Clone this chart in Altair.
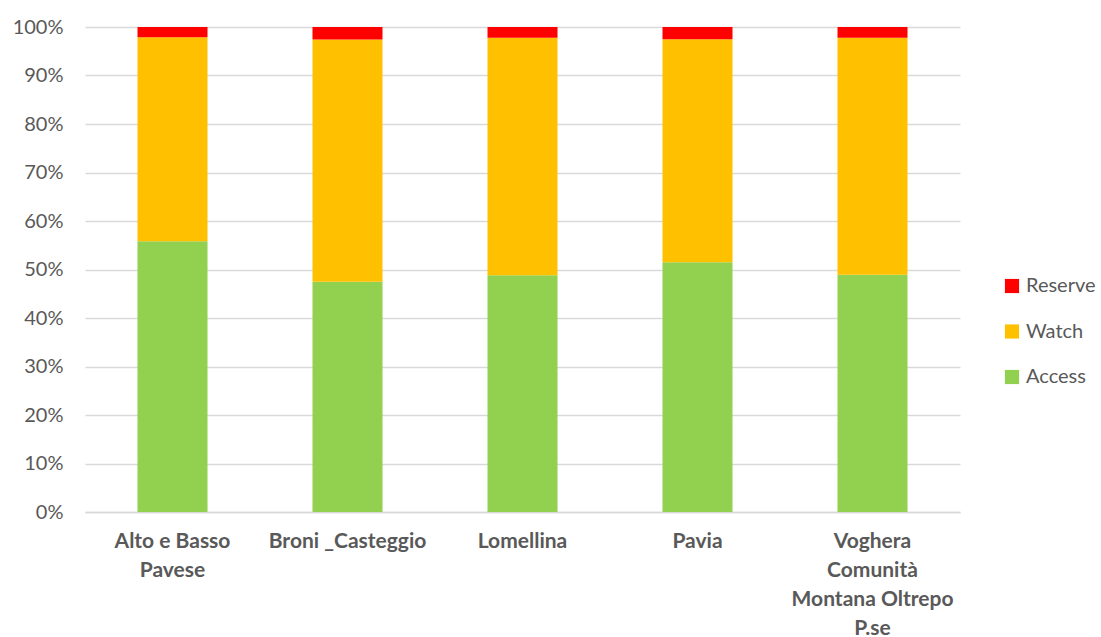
import altair as alt
import pandas as pd

categories = ["Alto e Basso Pavese", "Broni _Casteggio", "Lomellina", "Pavia",
              "Voghera Comunità Montana Oltrepo P.se"]
label_lines = [["Alto e Basso", "Pavese"], ["Broni _Casteggio"], ["Lomellina"], ["Pavia"],
               ["Voghera", "Comunità", "Montana Oltrepo", "P.se"]]
series = ["Access", "Watch", "Reserve"]
access = [0.558, 0.475, 0.488, 0.515, 0.489]
watch = [0.421, 0.499, 0.490, 0.460, 0.489]
reserve = [0.021, 0.026, 0.022, 0.025, 0.022]
colors = ["#92D050", "#FFC000", "#FF0000"]

rows = []
for i, c in enumerate(categories):
    for k, (s, vals) in enumerate(zip(series, [access, watch, reserve])):
        rows.append({"cat": c, "series": s, "value": vals[i], "ord": k})
df = pd.DataFrame(rows)

expr_parts = []
for c, lines in zip(categories, label_lines):
    arr = "[" + ",".join("'" + l + "'" for l in lines) + "]"
    expr_parts.append(f"datum.label == '{c}' ? {arr}")
label_expr = " : ".join(expr_parts) + " : datum.label"

FONT = "Lato"
chart = alt.Chart(df).mark_bar().encode(
    x=alt.X("cat:N", sort=categories, title=None,
            scale=alt.Scale(paddingInner=0.6, paddingOuter=0.3),
            axis=alt.Axis(labelAngle=0, labelExpr=label_expr, labelFont=FONT,
                          labelFontSize=21, labelFontWeight="bold", labelColor="#595959",
                          labelPadding=18, labelLineHeight=29, ticks=False, grid=False,
                          domainColor="#d9d9d9", domainWidth=1.3, labelLimit=300)),
    y=alt.Y("value:Q", stack="zero", title=None,
            scale=alt.Scale(domain=[0, 1], nice=False),
            axis=alt.Axis(format=".0%", values=[i / 10 for i in range(11)], ticks=False,
                          domain=False, labelFont=FONT, labelFontSize=20,
                          labelColor="#595959", labelPadding=22,
                          gridColor="#d9d9d9", gridWidth=1.3)),
    color=alt.Color("series:N", scale=alt.Scale(domain=series, range=colors),
                    sort=["Reserve", "Watch", "Access"],
                    legend=alt.Legend(title=None, orient="none", legendX=917, legendY=249,
                                      symbolType="square", symbolSize=200,
                                      symbolStrokeWidth=0, labelFont=FONT,
                                      labelFontSize=20, labelColor="#595959",
                                      rowPadding=25.5, labelOffset=4,
                                      values=["Reserve", "Watch", "Access"])),
    order=alt.Order("ord:Q", sort="ascending"),
).properties(
    width=875, height=485,
    autosize=alt.AutoSizeParams(type="none"),
    padding={"left": 85, "top": 27, "right": 141, "bottom": 125},
).configure(background="white").configure_view(stroke=None, strokeWidth=0)

chart.save("out.html", embed_options={"renderer": "svg", "actions": False})
